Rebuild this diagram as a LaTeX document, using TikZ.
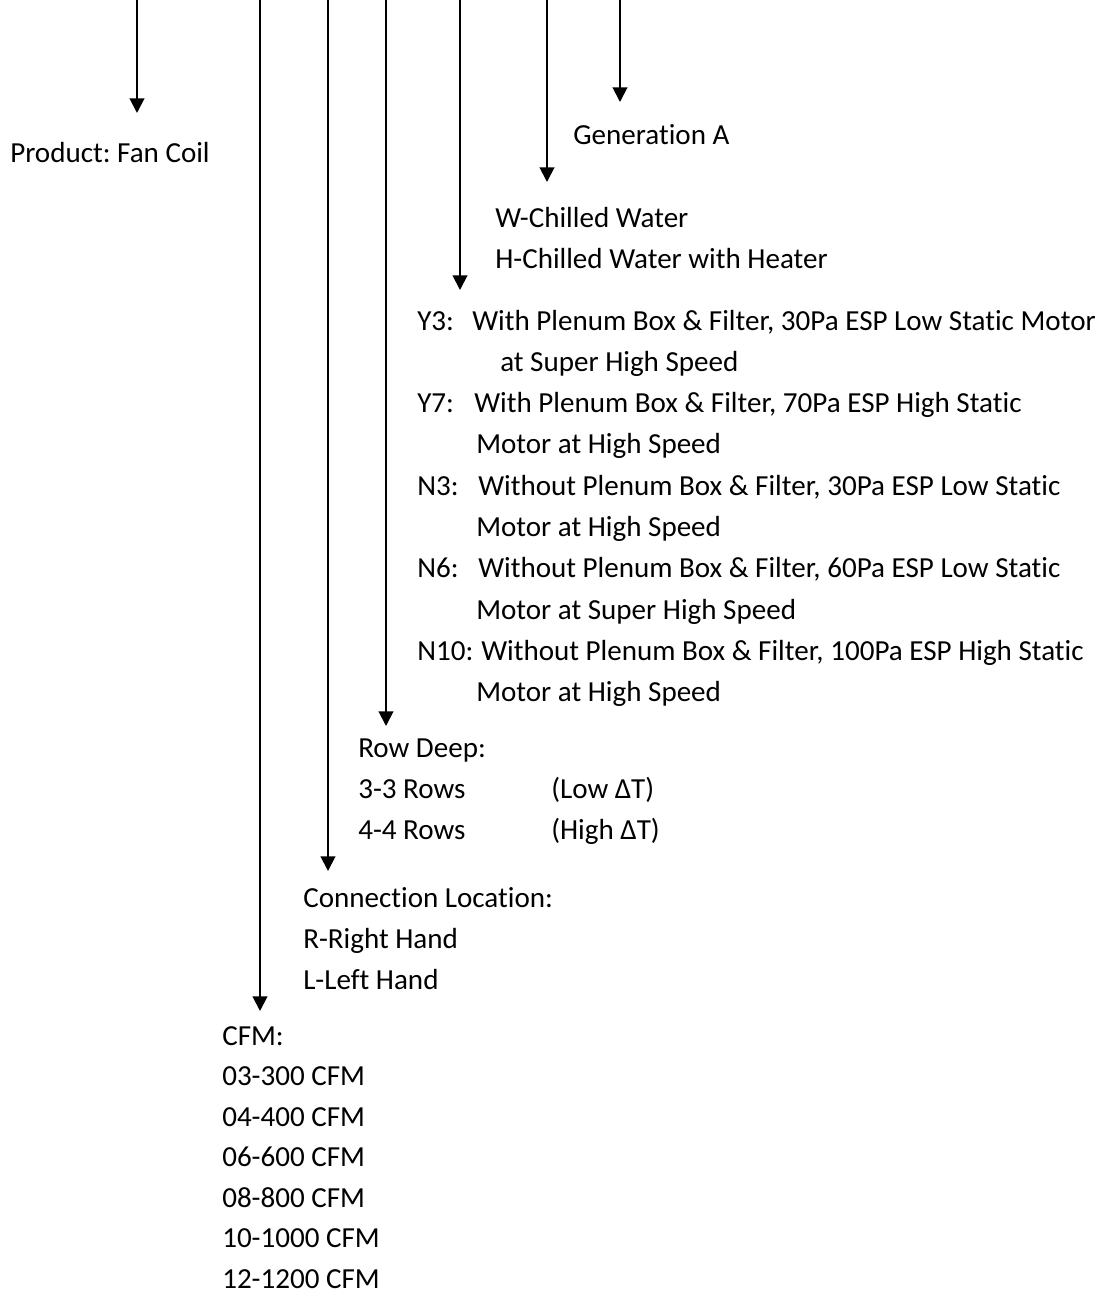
\documentclass[tikz,border=0pt]{standalone}
\usepackage{fontspec}
\setmainfont{Carlito}[Ligatures=NoCommon]
\usetikzlibrary{arrows.meta}
\frenchspacing

\begin{document}
\begin{tikzpicture}[
  x=0.75pt, y=-0.75pt,
  font=\fontsize{21.8}{31}\selectfont,
  item/.style={anchor=base west, inner sep=0pt},
  lead/.style={-{Triangle[width=11pt, length=11pt]}, line width=1.5pt}
]
\useasboundingbox (0,0) rectangle (1110,1297);

% leads coming down from the model code
\coordinate (prodtop) at (137,0);  \coordinate (prodtip) at (137,113);
\coordinate (cfmtop)  at (260,0);  \coordinate (cfmtip)  at (260,1011);
\coordinate (conntop) at (328,0);  \coordinate (conntip) at (328,871);
\coordinate (rowtop)  at (386,0);  \coordinate (rowtip)  at (386,726);
\coordinate (esptop)  at (460,0);  \coordinate (esptip)  at (460,290);
\coordinate (coiltop) at (547,0);  \coordinate (coiltip) at (547,182);
\coordinate (gentop)  at (620,0);  \coordinate (gentip)  at (620,102);

% generation and product
\node[item] (gen)  at (573,144) {Generation A};
\node[item] (prod) at (10,162)  {Product: Fan Coil};

% coil type
\node[item] (coilw) at (495,227) {W-Chilled Water};
\node[item] (coilh) at (495,268) {H-Chilled Water with Heater};

% plenum / static pressure
\node[item] (y3lab)  at (417,330)   {Y3:};
\node[item] (y3txt)  at (472,330)   {With Plenum Box \& Filter, 30Pa ESP Low Static Motor};
\node[item] (y3more) at (500,371.3) {at Super High Speed};
\node[item] (y7lab)  at (417,412.6) {Y7:};
\node[item] (y7txt)  at (474,412.6) {With Plenum Box \& Filter, 70Pa ESP High Static};
\node[item] (y7more) at (476,453.9) {Motor at High Speed};
\node[item] (n3lab)  at (417,495.2) {N3:};
\node[item] (n3txt)  at (478,495.2) {Without Plenum Box \& Filter, 30Pa ESP Low Static};
\node[item] (n3more) at (476,536.5) {Motor at High Speed};
\node[item] (n6lab)  at (417,577.8) {N6:};
\node[item] (n6txt)  at (478,577.8) {Without Plenum Box \& Filter, 60Pa ESP Low Static};
\node[item] (n6more) at (476,619.1) {Motor at Super High Speed};
\node[item] (n10lab) at (417,660.4) {N10:};
\node[item] (n10txt) at (481,660.4) {Without Plenum Box \& Filter, 100Pa ESP High Static};
\node[item] (n10more) at (476,701.7) {Motor at High Speed};

% row deep
\node[item] (row)   at (358,757) {Row Deep:};
\node[item] (row3)  at (358,798) {3-3 Rows};
\node[item] (row3t) at (551,798) {(Low ΔT)};
\node[item] (row4)  at (358,839) {4-4 Rows};
\node[item] (row4t) at (551,839) {(High ΔT)};

% connection side
\node[item] (conn)  at (303,907) {Connection Location:};
\node[item] (connr) at (303,948) {R-Right Hand};
\node[item] (connl) at (303,989) {L-Left Hand};

% air flow
\node[item] (cfm)   at (222,1045)   {CFM:};
\node[item] (cfm03) at (222,1085.5) {03-300 CFM};
\node[item] (cfm04) at (222,1126)   {04-400 CFM};
\node[item] (cfm06) at (222,1166.5) {06-600 CFM};
\node[item] (cfm08) at (222,1207)   {08-800 CFM};
\node[item] (cfm10) at (222,1247.5) {10-1000 CFM};
\node[item] (cfm12) at (222,1288)   {12-1200 CFM};

\draw[lead] (prodtop) -- (prodtip);
\draw[lead] (cfmtop)  -- (cfmtip);
\draw[lead] (conntop) -- (conntip);
\draw[lead] (rowtop)  -- (rowtip);
\draw[lead] (esptop)  -- (esptip);
\draw[lead] (coiltop) -- (coiltip);
\draw[lead] (gentop)  -- (gentip);
\end{tikzpicture}
\end{document}
